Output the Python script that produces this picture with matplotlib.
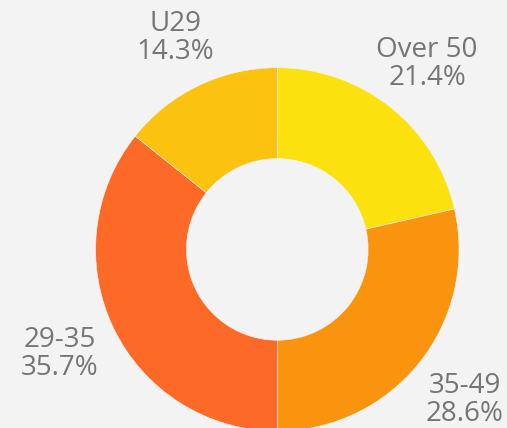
import matplotlib
matplotlib.use("Agg")
import matplotlib.pyplot as plt

# age groups, clockwise from 12 o'clock
groups = ["Over 50", "35-49", "29-35", "U29"]
counts = [3, 4, 5, 2]
colors = ["#FBE20E", "#FA940F", "#FD6A27", "#FBC30F"]

# label centres in pixel space (x, y from top)
label_pos = [(427, 64), (465, 400), (60, 354), (175, 38)]

W, H = 507, 428
bg = "#F3F3F3"
plt.rcParams["font.family"] = ["Open Sans", "DejaVu Sans"]

fig = plt.figure(figsize=(W / 100, H / 100), dpi=100, facecolor=bg)
ax = fig.add_axes([0, 0, 1, 1])
ax.set_facecolor(bg)

cx, cy, r = 277.3, H - 249.4, 181.7
ax.pie(counts, colors=colors, startangle=90, counterclock=False,
       center=(cx, cy), radius=r, frame=True,
       wedgeprops=dict(width=r * 0.5, edgecolor=bg, linewidth=0.4))
ax.set_xlim(0, W)
ax.set_ylim(0, H)
ax.set_aspect("equal")
ax.axis("off")

total = sum(counts)
for g, c, (lx, ly) in zip(groups, counts, label_pos):
    ax.text(lx, H - ly, "{}\n{:.1f}%".format(g, 100 * c / total),
            ha="center", va="center", fontsize=20, color="#757575",
            linespacing=1.0)

fig.savefig("out.png", dpi=100, facecolor=bg)
